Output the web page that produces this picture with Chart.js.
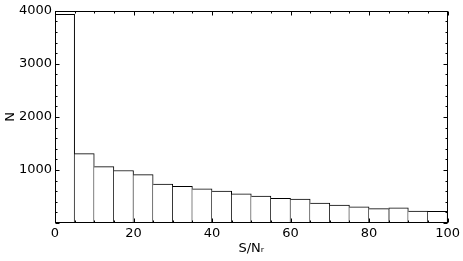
<!DOCTYPE html>
<html lang="en">
<head>
    <meta charset="UTF-8">
    <title>S/N histogram</title>
    <style>
        body { margin: 0; background: #fff; }
        #wrap { width: 463px; height: 261px; }
    </style>
</head>
<body>
    <div id="wrap"><canvas id="hist"></canvas></div>

    <script src="https://cdn.jsdelivr.net/npm/chart.js"></script>
    <script>
        // histogram bins (width 5), centers and counts
        const binCenters = [2.5, 7.5, 12.5, 17.5, 22.5, 27.5, 32.5, 37.5, 42.5, 47.5,
                            52.5, 57.5, 62.5, 67.5, 72.5, 77.5, 82.5, 87.5, 92.5, 97.5];
        const counts = [3935, 1308, 1064, 989, 912, 732, 690, 644, 600, 548,
                        507, 465, 450, 376, 338, 306, 270, 288, 226, 220];

        const xTicks = [0, 20, 40, 60, 80, 100];
        const yTicks = [0, 1000, 2000, 3000, 4000];
        const xMinorStep = 5;
        const yMinorStep = 200;

        const FONT = 'DejaVu Sans';

        // shared edge between two bars is drawn once, by the taller one
        function edgeWidths(i) {
            const n = counts.length;
            return {
                top: 1,
                bottom: 0,
                left: (i === 0 || counts[i] > counts[i - 1]) ? 1 : 0,
                right: (i === n - 1 || counts[i] >= counts[i + 1]) ? 1 : 0
            };
        }

        // matplotlib style frame with inward ticks on all four sides
        const framePlugin = {
            id: 'frame',
            afterDraw(chart) {
                const ctx = chart.ctx;
                const a = chart.chartArea;
                const xs = chart.scales.x, ys = chart.scales.y;
                ctx.save();
                ctx.strokeStyle = '#000';
                ctx.lineWidth = 1;
                const L = Math.round(a.left) + 0.5, R = Math.round(a.right) - 0.5;
                const T = Math.round(a.top) + 0.5, B = Math.round(a.bottom) - 0.5;
                ctx.strokeRect(L, T, R - L, B - T);

                ctx.beginPath();
                for (let v = xs.min; v <= xs.max; v += xMinorStep) {
                    const len = xTicks.includes(v) ? 4 : 2;
                    const px = Math.round(xs.getPixelForValue(v)) + 0.5;
                    ctx.moveTo(px, B); ctx.lineTo(px, B - len);
                    ctx.moveTo(px, T); ctx.lineTo(px, T + len);
                }
                for (let v = ys.min; v <= ys.max; v += yMinorStep) {
                    const len = yTicks.includes(v) ? 4 : 2;
                    const py = Math.round(ys.getPixelForValue(v)) + 0.5;
                    ctx.moveTo(L, py); ctx.lineTo(L + len, py);
                    ctx.moveTo(R, py); ctx.lineTo(R - len, py);
                }
                ctx.stroke();
                ctx.restore();
            }
        };

        const ctx = document.getElementById('hist').getContext('2d');
        new Chart(ctx, {
            type: 'bar',
            data: {
                datasets: [{
                    data: binCenters.map((c, i) => ({ x: c, y: counts[i] })),
                    backgroundColor: '#ffffff',
                    borderColor: '#000000',
                    borderWidth: c => edgeWidths(c.dataIndex),
                    borderSkipped: false,
                    barPercentage: 1.0,
                    categoryPercentage: 1.0
                }]
            },
            options: {
                responsive: true,
                maintainAspectRatio: false,
                animation: false,
                layout: { padding: { top: 10, right: 14, left: 0, bottom: 0 } },
                plugins: {
                    legend: { display: false },
                    tooltip: { enabled: false }
                },
                scales: {
                    x: {
                        type: 'linear',
                        min: 0,
                        max: 100,
                        offset: false,
                        grid: { display: false, drawTicks: false },
                        border: { display: false },
                        afterBuildTicks: s => { s.ticks = xTicks.map(v => ({ value: v })); },
                        ticks: {
                            color: '#000',
                            padding: 3,
                            maxRotation: 0,
                            font: { family: FONT, size: 13 }
                        },
                        title: {
                            display: true,
                            text: 'S/Nᵣ',
                            color: '#000',
                            padding: { top: 0, bottom: 5 },
                            font: { family: FONT, size: 13 }
                        },
                        afterFit: s => { s.height = 38; }
                    },
                    y: {
                        min: 0,
                        max: 4000,
                        grid: { display: false, drawTicks: false },
                        border: { display: false },
                        afterBuildTicks: s => { s.ticks = yTicks.map(v => ({ value: v })); },
                        ticks: {
                            color: '#000',
                            padding: 3,
                            font: { family: FONT, size: 13 },
                            callback: v => v === 0 ? '' : String(v)
                        },
                        title: {
                            display: true,
                            text: 'N',
                            color: '#000',
                            padding: { top: 3, bottom: 0 },
                            font: { family: FONT, size: 13 }
                        },
                        afterFit: s => { s.width = 55; }
                    }
                }
            },
            plugins: [framePlugin]
        });
    </script>
</body>
</html>
